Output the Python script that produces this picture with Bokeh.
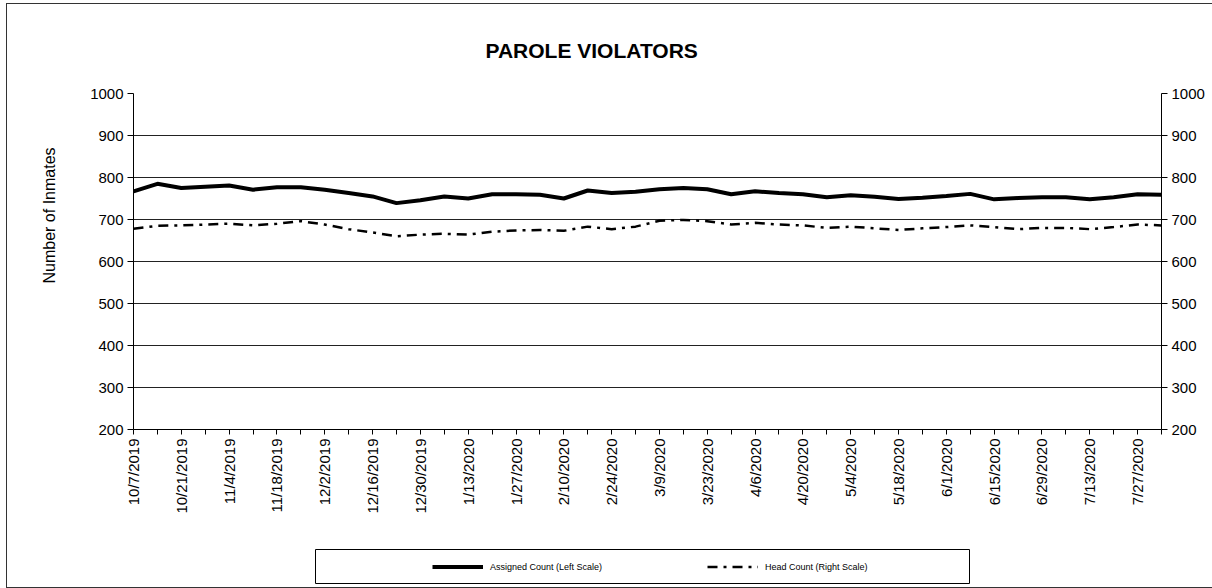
from math import pi
from bokeh.plotting import figure
from bokeh.layouts import column, row
from bokeh.models import (Range1d, LinearAxis, FixedTicker, Legend, LegendItem, Title, Spacer)
from bokeh.embed import file_html
from bokeh.resources import INLINE

dates = ["10/7/2019", "10/14/2019", "10/21/2019", "10/28/2019", "11/4/2019", "11/11/2019",
         "11/18/2019", "11/25/2019", "12/2/2019", "12/9/2019", "12/16/2019", "12/23/2019",
         "12/30/2019", "1/6/2020", "1/13/2020", "1/20/2020", "1/27/2020", "2/3/2020",
         "2/10/2020", "2/17/2020", "2/24/2020", "3/2/2020", "3/9/2020", "3/16/2020",
         "3/23/2020", "3/30/2020", "4/6/2020", "4/13/2020", "4/20/2020", "4/27/2020",
         "5/4/2020", "5/11/2020", "5/18/2020", "5/25/2020", "6/1/2020", "6/8/2020",
         "6/15/2020", "6/22/2020", "6/29/2020", "7/6/2020", "7/13/2020", "7/20/2020",
         "7/27/2020", "8/3/2020"]

assigned = [767, 785, 775, 778, 781, 771, 777, 777, 771, 763, 755, 739, 746, 755, 750,
            760, 760, 759, 750, 769, 763, 766, 772, 775, 772, 760, 767, 763, 760, 753,
            758, 754, 749, 752, 756, 761, 748, 751, 753, 753, 748, 753, 760, 759]

head = [678, 685, 686, 688, 690, 686, 690, 696, 688, 677, 669, 660, 664, 666, 664,
        671, 674, 675, 673, 683, 677, 683, 697, 699, 696, 688, 692, 688, 686, 680,
        683, 679, 675, 679, 682, 686, 682, 677, 680, 680, 677, 682, 688, 686]

y_ticks = [200, 300, 400, 500, 600, 700, 800, 900, 1000]
series_labels = ["Assigned Count (Left Scale)", "Head Count (Right Scale)"]

FONT = "Liberation Sans"
x = list(range(len(dates)))

p = figure(width=1205, height=545, output_backend="svg", toolbar_location=None,
           x_range=Range1d(0, len(dates) - 1), y_range=Range1d(200, 1000),
           min_border_left=126, min_border_right=51, min_border_top=89,
           min_border_bottom=120, title=None)
p.outline_line_color = None
p.background_fill_color = "white"
p.border_fill_color = "white"

p.extra_y_ranges = {"right": Range1d(200, 1000)}

# Title
t = Title(text="PAROLE VIOLATORS", align="left", offset=352, text_font=FONT,
          text_font_size="21px", text_font_style="bold", text_color="black",
          standoff=63)
p.add_layout(t, "above")

# x axis
xa = p.xaxis[0]
xa.ticker = FixedTicker(ticks=x)
xa.major_label_overrides = {i: (d if i % 2 == 0 else "") for i, d in enumerate(dates)}
xa.major_label_orientation = pi / 2
xa.major_label_text_font = FONT
xa.major_label_text_font_size = "15px"
xa.major_label_text_color = "black"
xa.axis_line_color = "black"
xa.major_tick_line_color = "black"
xa.major_tick_out = 5
xa.major_tick_in = 0
xa.minor_tick_line_color = None
xa.major_label_standoff = 4

# left y axis
ya = p.yaxis[0]
ya.ticker = FixedTicker(ticks=y_ticks)
ya.major_label_text_font = FONT
ya.major_label_text_font_size = "15px"
ya.major_label_text_color = "black"
ya.axis_line_color = "black"
ya.major_tick_line_color = "black"
ya.major_tick_out = 6
ya.major_tick_in = 0
ya.minor_tick_line_color = None
ya.major_label_standoff = 4

# y axis title (placed above centre like the reference)
yt = Title(text="Number of Inmates", align="left", offset=146, text_font=FONT,
           text_font_size="16px", text_font_style="normal", text_color="black",
           standoff=59)
p.add_layout(yt, "left")

# right y axis
ra = LinearAxis(y_range_name="right", ticker=FixedTicker(ticks=y_ticks))
ra.major_label_text_font = FONT
ra.major_label_text_font_size = "15px"
ra.major_label_text_color = "black"
ra.axis_line_color = "black"
ra.major_tick_line_color = "black"
ra.major_tick_out = 6
ra.major_tick_in = 0
ra.minor_tick_line_color = None
ra.major_label_standoff = 4
p.add_layout(ra, "right")

p.xgrid.grid_line_color = None
p.ygrid.ticker = FixedTicker(ticks=y_ticks)
p.ygrid.grid_line_color = "#222222"
p.ygrid.grid_line_width = 1

ASSIGNED_STYLE = dict(line_color="black", line_width=4)
HEAD_STYLE = dict(line_color="black", line_width=2.5, line_dash="10 6 3 6")

p.line(x, assigned, **ASSIGNED_STYLE)
p.line(x, head, y_range_name="right", **HEAD_STYLE)

# Legend panel (separate small figure holding the boxed legend)
lg = figure(width=655, height=35, output_backend="svg", toolbar_location=None,
            x_range=Range1d(0, 1), y_range=Range1d(0, 1),
            x_axis_location=None, y_axis_location=None, min_border=0)
lg.xgrid.grid_line_color = None
lg.ygrid.grid_line_color = None
lg.outline_line_color = "black"
lg.outline_line_width = 1
lg.background_fill_color = "white"
lg.border_fill_color = "white"
# same series, drawn outside the tiny panel's view; only their legend glyphs show
l1 = lg.line(x, assigned, **ASSIGNED_STYLE)
l2 = lg.line(x, head, **HEAD_STYLE)

legend = Legend(items=[LegendItem(label=series_labels[0], renderers=[l1]),
                       LegendItem(label=series_labels[1], renderers=[l2])],
                orientation="horizontal", location=(117, 9),
                glyph_width=51, glyph_height=17, label_standoff=7, label_width=196,
                spacing=21, padding=0, margin=0,
                label_text_font=FONT, label_text_font_size="9px",
                label_text_color="black", border_line_color=None,
                background_fill_alpha=0)
lg.add_layout(legend, "center")

BORDER = "1px solid #333"
layout = column(p, row(Spacer(width=308, height=35), lg), Spacer(width=1205, height=3),
                margin=(3, 0, 0, 6),
                styles={"border-left": BORDER, "border-top": BORDER,
                        "border-bottom": BORDER})

open("out.html", "w").write(file_html(layout, INLINE))
